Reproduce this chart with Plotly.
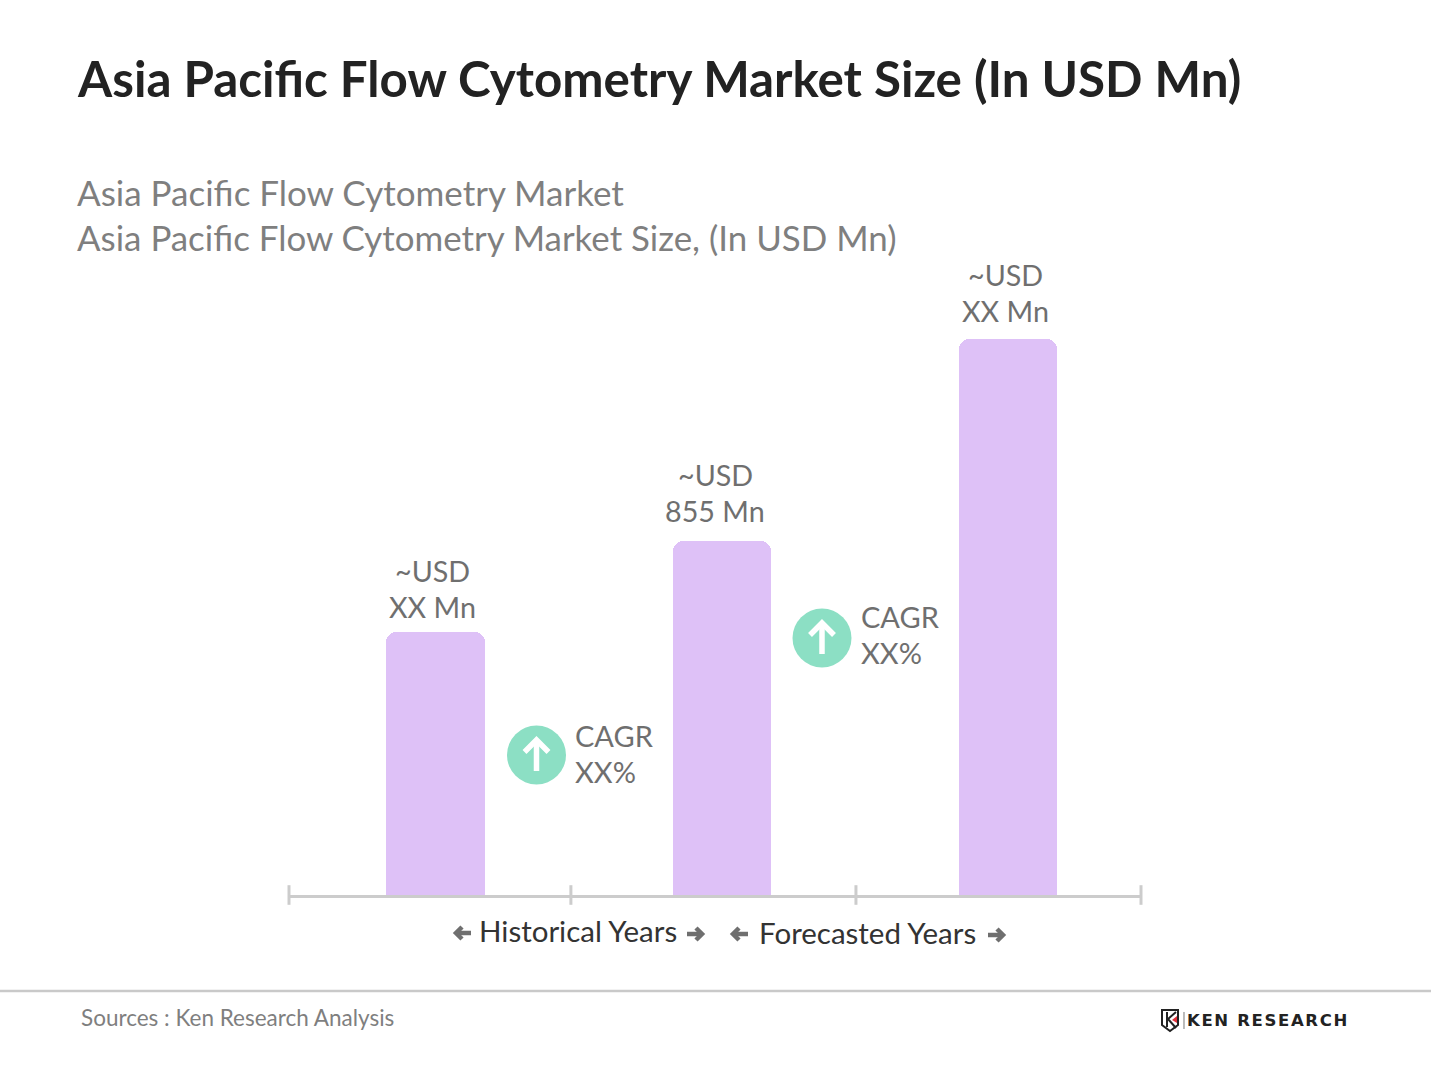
import plotly.graph_objects as go

W, H = 1431, 1073

# ---- data ----
categories = [0, 1, 2]
values = [635, 855, 1343]
bar_labels = [["~USD", "XX Mn"], ["~USD", "855 Mn"], ["~USD", "XX Mn"]]
period_ticks = [-0.512, 0.473, 1.469, 2.465]
def pacific(color):
    return f"Paci<span style='color:{color}'>f</span>ic"
title_text = f"Asia {pacific('#222222')} Flow Cytometry Market Size (In USD Mn)"
subtitle_lines = [f"Asia {pacific('#7f7f7f')} Flow Cytometry Market",
                  f"Asia {pacific('#7f7f7f')} Flow Cytometry Market Size, (In USD Mn)"]
cagr_labels = ["CAGR", "XX%"]
source_text = "Sources : Ken Research Analysis"
logo_text = "\u200a".join("KEN RESEARCH")

FONT = "Lato, 'Open Sans', sans-serif"
GREY = "#6f6f6f"

def px(x):
    return x / W

def py(y):
    return 1 - y / H

def note(x, y, text, size, color, anchor="left", family=FONT, weight=None):
    font = dict(family=family, size=size, color=color)
    if weight:
        font["weight"] = weight
    return dict(xref="paper", yref="paper", x=px(x), y=py(y), text=text, showarrow=False,
                xanchor=anchor, yanchor="middle", align=anchor,
                font=font, borderpad=0, borderwidth=0)

def poly(points, fill=None, line=None, width=0, closed=False):
    d = "M " + " L ".join(f"{px(a):.5f},{py(b):.5f}" for a, b in points)
    s = dict(type="path", xref="paper", yref="paper", path=d + (" Z" if closed or fill else ""))
    if fill:
        s["fillcolor"] = fill
        s["line"] = dict(width=0)
    else:
        s["line"] = dict(color=line, width=width)
    return s

def circle(cx, cy, r, color):
    return dict(type="circle", xref="paper", yref="paper",
                x0=px(cx - r), x1=px(cx + r), y0=py(cy + r), y1=py(cy - r),
                fillcolor=color, line=dict(width=0))

def badge(cx, cy):
    return [circle(cx, cy, 29.5, "#8cdfc4"),
            poly([(cx, cy + 16), (cx, cy - 14)], line="white", width=5.5),
            poly([(cx - 12, cy - 3), (cx, cy - 15), (cx + 12, cy - 3)], line="white", width=5.5)]

def arrow(x0, x1, y):
    back = -6 if x1 > x0 else 6
    return [poly([(x0, y), (x1, y)], line="#6f6f6f", width=4.5),
            poly([(x1 + back, y - 6), (x1, y), (x1 + back, y + 6)], line="#6f6f6f", width=4.5)]

fig = go.Figure()
fig.add_trace(go.Bar(x=categories, y=values, width=0.343, marker=dict(color="#dec1f7", line=dict(width=0)),
                     hoverinfo="skip"))
fig.add_trace(go.Scatter(x=period_ticks, y=[0] * len(period_ticks), mode="markers", cliponaxis=False,
                         marker=dict(symbol="line-ns", size=14, line=dict(color="#cccccc", width=3)),
                         hoverinfo="skip"))

shapes = badge(536.5, 755) + badge(822, 638)
shapes += arrow(471, 456, 933) + arrow(687, 702, 934) + arrow(748, 733, 934) + arrow(988, 1003, 935)
shapes.append(dict(type="line", xref="paper", yref="paper", x0=0, x1=1, y0=py(991), y1=py(991),
                   line=dict(color="#c9c9c9", width=2.5)))
# logo
shapes.append(poly([(1162, 1010), (1178, 1010), (1178, 1025), (1170, 1031), (1162, 1025)],
                   line="#222222", width=2, closed=True))
shapes.append(poly([(1167, 1012), (1167, 1027)], line="#222222", width=2))
shapes.append(poly([(1176, 1012), (1168, 1019), (1176, 1028)], line="#222222", width=2))
shapes.append(poly([(1177, 1016), (1172, 1020), (1177, 1023)], fill="#e0303a"))
shapes.append(poly([(1184, 1012), (1184, 1029)], line="#777777", width=1))

ann = [
    note(77, 78, title_text, 49.3, "#222222", weight=700),
    note(77, 192, subtitle_lines[0], 35, "#7f7f7f"),
    note(77, 237, subtitle_lines[1], 34.9, "#7f7f7f"),
    note(432, 571, bar_labels[0][0], 28.7, GREY, "center"),
    note(432, 607, bar_labels[0][1], 28.7, GREY, "center"),
    note(715, 475, bar_labels[1][0], 28.7, GREY, "center"),
    note(715, 511, bar_labels[1][1], 28.7, GREY, "center"),
    note(1005, 275, bar_labels[2][0], 28.7, GREY, "center"),
    note(1005, 311, bar_labels[2][1], 28.7, GREY, "center"),
    note(575, 735, cagr_labels[0], 29, GREY),
    note(575, 771, cagr_labels[1], 29, GREY),
    note(861, 616, cagr_labels[0], 29, GREY),
    note(861, 652, cagr_labels[1], 29, GREY),
    note(479, 930, "Historical Years", 29.5, "#333333"),
    note(759, 932, "Forecasted Years", 29.5, "#333333"),
    note(81, 1017, source_text, 22.5, "#7f7f7f"),
    note(1187, 1020, logo_text, 16.5, "#222222", family="'DejaVu Sans', sans-serif", weight=700),
]

fig.update_layout(
    width=W, height=H, autosize=False,
    margin=dict(l=0, r=0, t=0, b=0),
    paper_bgcolor="white", plot_bgcolor="white",
    showlegend=False, bargap=0,
    shapes=shapes, annotations=ann,
    xaxis=dict(domain=[px(289), px(1141)], range=[-0.512, 2.465], tickvals=period_ticks, ticks="", showticklabels=False,
               showgrid=False, zeroline=False, showline=True, linecolor="#cccccc", linewidth=3, layer="below traces"),
    yaxis=dict(domain=[py(895), py(280)], range=[0, 615 * 855 / 354], showticklabels=False, ticks="",
               showgrid=False, zeroline=False, showline=False),
    barcornerradius=10,
)

fig.write_html("out.html", post_script="document.body.style.margin='0';", config={"displayModeBar": False})
